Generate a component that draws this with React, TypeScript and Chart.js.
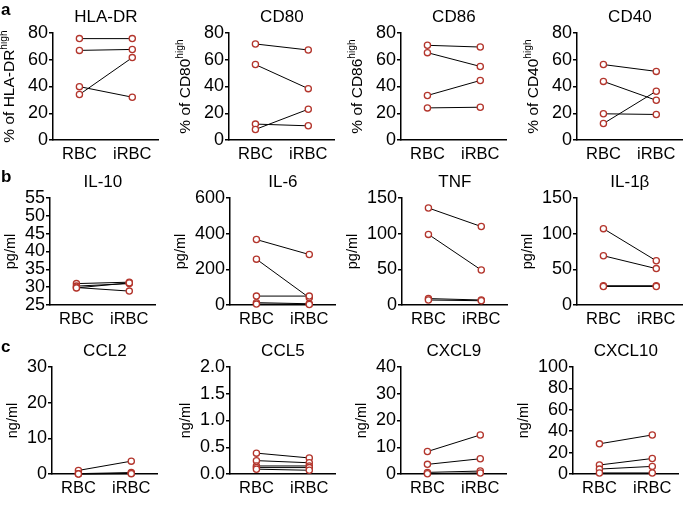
import React, { useEffect, useRef } from "react";
import { Chart, registerables } from "chart.js";

Chart.register(...registerables);

const FONT = '"Liberation Sans", Arial, Helvetica, sans-serif';
Chart.defaults.font.family = FONT;

// ---------- data ----------
const CATEGORIES = ["RBC", "iRBC"];

const HLADR_RBC = [75.8, 67, 39.9, 34];
const HLADR_IRBC = [75.8, 67.7, 32, 61.6];
const CD80_RBC = [71.8, 56.4, 11.9, 7.9];
const CD80_IRBC = [67.3, 38.4, 10.6, 23];
const CD86_RBC = [70.8, 65.3, 33.3, 24];
const CD86_IRBC = [69.5, 55, 44.5, 24.5];
const CD40_RBC = [56.4, 43.8, 19.6, 12.3];
const CD40_IRBC = [51.3, 29.7, 19.1, 36.5];

const IL10_RBC = [31.0, 30.3, 29.9, 29.8];
const IL10_IRBC = [31.4, 31.0, 28.9, 31.2];
const IL6_RBC = [367, 257, 50, 13, 5];
const IL6_IRBC = [283, 41, 50, 7, 3];
const TNF_RBC = [136, 99, 9, 7];
const TNF_IRBC = [110, 49, 7, 6];
const IL1B_RBC = [107, 69, 27, 26];
const IL1B_IRBC = [62, 51, 27, 26];

const CCL2_RBC = [1.0, 0.1, 0.05, 0];
const CCL2_IRBC = [3.6, 0.4, 0.2, 0.1];
const CCL5_RBC = [0.39, 0.25, 0.15, 0.12, 0.09];
const CCL5_IRBC = [0.3, 0.21, 0.15, 0.12, 0.07];
const CXCL9_RBC = [8.4, 3.6, 0.6, 0.1];
const CXCL9_IRBC = [14.6, 5.7, 1.1, 0.4];
const CXCL10_RBC = [28.2, 8.4, 4.6, 1];
const CXCL10_IRBC = [36.5, 14.5, 7.1, 1];

const PANEL_LETTERS = ["a", "b", "c"];

type PanelCfg = {
  title: string;
  yMain: string;
  ySup: string;
  rbc: number[];
  irbc: number[];
  min: number;
  max: number;
  step: number;
  decimals: number;
};

const PANELS: PanelCfg[] = [
  { title: "HLA-DR", yMain: "% of HLA-DR", ySup: "high", rbc: HLADR_RBC, irbc: HLADR_IRBC, min: 0, max: 80, step: 20, decimals: 0 },
  { title: "CD80", yMain: "% of CD80", ySup: "high", rbc: CD80_RBC, irbc: CD80_IRBC, min: 0, max: 80, step: 20, decimals: 0 },
  { title: "CD86", yMain: "% of CD86", ySup: "high", rbc: CD86_RBC, irbc: CD86_IRBC, min: 0, max: 80, step: 20, decimals: 0 },
  { title: "CD40", yMain: "% of CD40", ySup: "high", rbc: CD40_RBC, irbc: CD40_IRBC, min: 0, max: 80, step: 20, decimals: 0 },
  { title: "IL-10", yMain: "pg/ml", ySup: "", rbc: IL10_RBC, irbc: IL10_IRBC, min: 25, max: 55, step: 5, decimals: 0 },
  { title: "IL-6", yMain: "pg/ml", ySup: "", rbc: IL6_RBC, irbc: IL6_IRBC, min: 0, max: 600, step: 200, decimals: 0 },
  { title: "TNF", yMain: "pg/ml", ySup: "", rbc: TNF_RBC, irbc: TNF_IRBC, min: 0, max: 150, step: 50, decimals: 0 },
  { title: "IL-1β", yMain: "pg/ml", ySup: "", rbc: IL1B_RBC, irbc: IL1B_IRBC, min: 0, max: 150, step: 50, decimals: 0 },
  { title: "CCL2", yMain: "ng/ml", ySup: "", rbc: CCL2_RBC, irbc: CCL2_IRBC, min: 0, max: 30, step: 10, decimals: 0 },
  { title: "CCL5", yMain: "ng/ml", ySup: "", rbc: CCL5_RBC, irbc: CCL5_IRBC, min: 0, max: 2, step: 0.5, decimals: 1 },
  { title: "CXCL9", yMain: "ng/ml", ySup: "", rbc: CXCL9_RBC, irbc: CXCL9_IRBC, min: 0, max: 40, step: 10, decimals: 0 },
  { title: "CXCL10", yMain: "ng/ml", ySup: "", rbc: CXCL10_RBC, irbc: CXCL10_IRBC, min: 0, max: 100, step: 20, decimals: 0 },
];

// ---------- layout ----------
const AXIS_X = [
  [53, 229, 401, 577],
  [50, 230, 402, 577],
  [52, 230, 401, 573],
];
const TOP_Y = [33, 198, 367];
const LETTER_TOP = [1, 168, 338];

const LEFT_W = 60;
const PLOT_W = 107;
const RIGHT_PAD = 4;
const TITLE_H = 40;
const PLOT_H = 107;
const XAXIS_H = 28;
const CANVAS_W = LEFT_W + PLOT_W + RIGHT_PAD;
const CANVAS_H = TITLE_H + PLOT_H + XAXIS_H;

const YTICK_SIZE = 18;
const XTICK_SIZE = 16.5;
const TITLE_SIZE = 17;
const TICK_LEN = 4;
const POINT_COLOR = "#b3352c";

function makeYTitlePlugin(main: string, sup: string) {
  return {
    id: "yTitleSup",
    afterDraw(chart: any) {
      const ctx = chart.ctx;
      const area = chart.chartArea;
      const ys = chart.scales.y;
      ctx.save();
      ctx.font = `${YTICK_SIZE}px ${FONT}`;
      let maxW = 0;
      (ys.ticks || []).forEach((t: any) => {
        const w = ctx.measureText(String(t.label)).width;
        if (w > maxW) maxW = w;
      });
      const labelLeft = area.left - TICK_LEN - 1 - maxW;
      const fs = sup ? 15.5 : 14.5;
      const cx = labelLeft - (sup ? 18 : 14);
      const cy = (area.top + area.bottom) / 2;
      ctx.translate(cx, cy);
      ctx.rotate(-Math.PI / 2);
      ctx.fillStyle = "#000";
      ctx.textBaseline = "middle";
      ctx.textAlign = "left";
      ctx.font = `${fs}px ${FONT}`;
      const wM = ctx.measureText(main).width;
      const sfs = fs * 0.66;
      ctx.font = `${sfs}px ${FONT}`;
      const wS = sup ? ctx.measureText(sup).width : 0;
      const x0 = -(wM + wS) / 2;
      ctx.font = `${fs}px ${FONT}`;
      ctx.fillText(main, x0, 0);
      if (sup) {
        ctx.font = `${sfs}px ${FONT}`;
        ctx.fillText(sup, x0 + wM, -fs * 0.36);
      }
      ctx.restore();
    },
  };
}

function Panel({ cfg, left, top }: { cfg: PanelCfg; left: number; top: number }) {
  const ref = useRef<HTMLCanvasElement | null>(null);
  useEffect(() => {
    if (!ref.current) return;
    const lineSets = cfg.rbc.map((v, i) => ({
      data: [v, cfg.irbc[i]],
      borderColor: "#000",
      borderWidth: 1,
      pointRadius: 0,
      fill: false,
      order: 2,
      clip: false as any,
    }));
    const pointSet = {
      data: [
        ...cfg.rbc.map((v) => ({ x: CATEGORIES[0], y: v })),
        ...cfg.irbc.map((v) => ({ x: CATEGORIES[1], y: v })),
      ],
      showLine: false,
      pointRadius: 3.1,
      pointBorderWidth: 1.3,
      pointBorderColor: POINT_COLOR,
      pointBackgroundColor: "#fff",
      order: 1,
      clip: false as any,
    };
    const chart = new Chart(ref.current, {
      type: "line",
      data: { labels: CATEGORIES, datasets: [...lineSets, pointSet] as any },
      options: {
        responsive: false,
        animation: false,
        devicePixelRatio: 1,
        layout: { padding: { left: 0, right: RIGHT_PAD, top: 0, bottom: 0 } },
        plugins: {
          legend: { display: false },
          tooltip: { enabled: false },
          title: {
            display: true,
            text: cfg.title,
            color: "#000",
            fullSize: false,
            font: { size: TITLE_SIZE, weight: "normal" as any, family: FONT },
            padding: { top: 14, bottom: TITLE_H - 14 - TITLE_SIZE * 1.2 },
          },
        },
        scales: {
          x: {
            type: "category",
            offset: true,
            grid: { display: false },
            border: { display: true, color: "#000", width: 1.5 },
            ticks: { color: "#000", font: { size: XTICK_SIZE, family: FONT }, padding: -3, maxRotation: 0, autoSkip: false },
            afterFit: (s: any) => {
              s.height = XAXIS_H;
            },
          },
          y: {
            min: cfg.min,
            max: cfg.max,
            grid: { display: true, drawOnChartArea: false, drawTicks: true, tickLength: TICK_LEN, color: "#000", lineWidth: 1.5 },
            border: { display: true, color: "#000", width: 1.5 },
            ticks: {
              stepSize: cfg.step,
              autoSkip: false,
              color: "#000",
              padding: 1,
              font: { size: YTICK_SIZE, family: FONT },
              callback: (v: any) => Number(v).toFixed(cfg.decimals),
            },
            afterFit: (s: any) => {
              s.width = LEFT_W;
            },
          },
        },
      },
      plugins: [makeYTitlePlugin(cfg.yMain, cfg.ySup) as any],
    });
    return () => chart.destroy();
  }, [cfg]);
  return (
    <canvas
      ref={ref}
      width={CANVAS_W}
      height={CANVAS_H}
      style={{ position: "absolute", left, top, width: CANVAS_W, height: CANVAS_H }}
    />
  );
}

export default function App() {
  return (
    <div
      style={{
        position: "absolute",
        left: 0,
        top: 0,
        width: 685,
        height: 506,
        background: "#fff",
        overflow: "hidden",
        fontFamily: FONT,
      }}
    >
      {PANELS.map((p, i) => {
        const r = Math.floor(i / 4);
        const c = i % 4;
        return <Panel key={p.title} cfg={p} left={AXIS_X[r][c] - LEFT_W} top={TOP_Y[r] - TITLE_H} />;
      })}
      {PANEL_LETTERS.map((l, r) => (
        <span
          key={l}
          style={{
            position: "absolute",
            left: 1,
            top: LETTER_TOP[r],
            fontWeight: "bold",
            fontSize: 17,
            lineHeight: 1,
            color: "#000",
          }}
        >
          {l}
        </span>
      ))}
    </div>
  );
}
